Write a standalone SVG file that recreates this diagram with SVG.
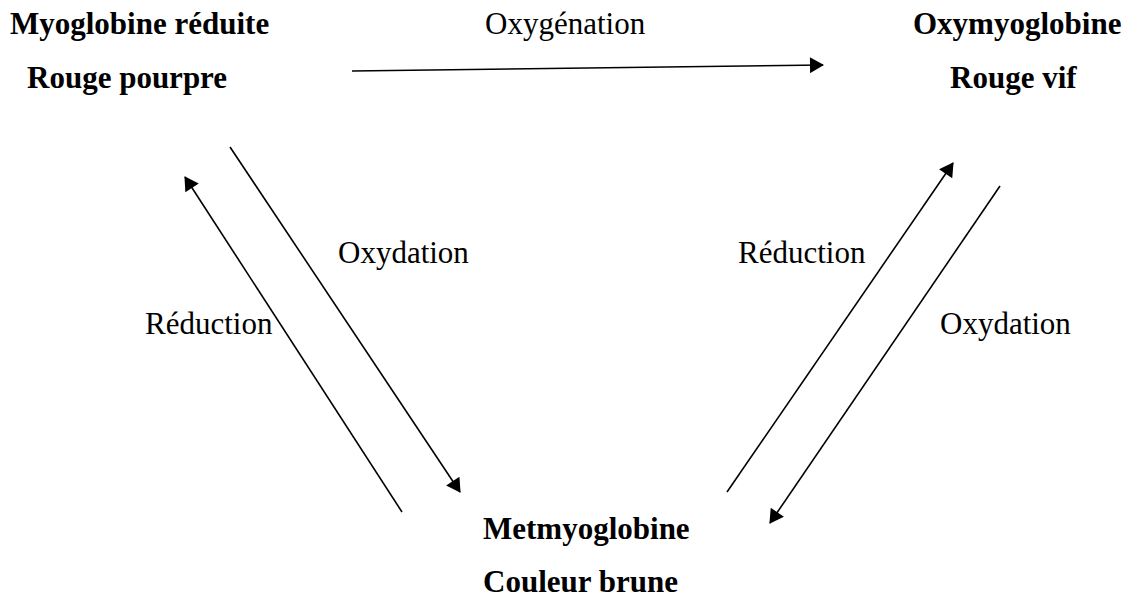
<svg xmlns="http://www.w3.org/2000/svg" width="1135" height="601" viewBox="0 0 1135 601">
<defs>
<style>
.b{font-family:"Liberation Serif","Times New Roman",serif;font-size:31px;font-weight:bold;fill:#000}
.r{font-family:"Liberation Serif","Times New Roman",serif;font-size:31px;fill:#000}
.c{stroke:#000;stroke-width:1.6;fill:none;marker-end:url(#ah)}
</style>
<marker id="ah" markerUnits="userSpaceOnUse" markerWidth="16" markerHeight="16" viewBox="0 0 14 16" refX="13" refY="8" orient="auto">
<path d="M0,0 L14,8 L0,16 Z" fill="#000"/>
</marker>
</defs>
<rect width="1135" height="601" fill="#fff"/>
<g id="myoglobine">
<text class="b" x="10" y="34">Myoglobine réduite</text>
<text class="b" x="27" y="88">Rouge pourpre</text>
</g>
<g id="oxymyoglobine">
<text class="b" x="913" y="34">Oxymyoglobine</text>
<text class="b" x="950" y="88">Rouge vif</text>
</g>
<g id="metmyoglobine">
<text class="b" x="483" y="539">Metmyoglobine</text>
<text class="b" x="483" y="592">Couleur brune</text>
</g>
<g id="connectors">
<line class="c" x1="352" y1="71" x2="823" y2="65"/>
<line class="c" x1="230" y1="147" x2="460" y2="492"/>
<line class="c" x1="402" y1="512" x2="185" y2="177"/>
<line class="c" x1="727" y1="492" x2="953" y2="163"/>
<line class="c" x1="1000" y1="186" x2="770" y2="523"/>
</g>
<g id="labels">
<text class="r" x="485" y="34">Oxygénation</text>
<text class="r" x="338" y="263">Oxydation</text>
<text class="r" x="145" y="334">Réduction</text>
<text class="r" x="738" y="263">Réduction</text>
<text class="r" x="940" y="334">Oxydation</text>
</g>
</svg>
